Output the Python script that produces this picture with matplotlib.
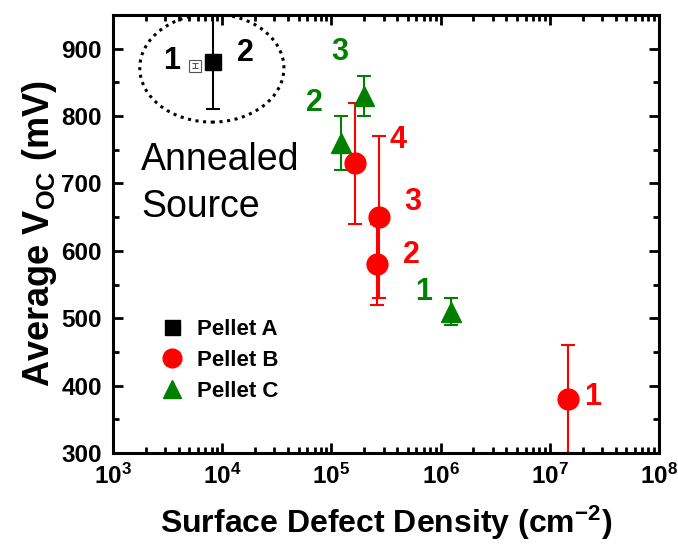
import numpy as np
import matplotlib.pyplot as plt
from matplotlib.patches import Ellipse
from matplotlib.ticker import FixedLocator, NullFormatter

plt.rcParams['font.family'] = ['Liberation Sans', 'DejaVu Sans']
plt.rcParams['font.weight'] = 'bold'
plt.rcParams['mathtext.fontset'] = 'custom'
plt.rcParams['mathtext.rm'] = 'Liberation Sans:bold'
plt.rcParams['mathtext.it'] = 'Liberation Sans:bold'
plt.rcParams['mathtext.bf'] = 'Liberation Sans:bold'

# Pellet A (annealed source), filled and open squares
a_x = [8.2e3]
a_v = [880]
a_err = [70]
a_open_x = [5.6e3]
a_open_v = [875]
a_open_err = [4]

# Pellet B
b_x = [1.47e7, 2.6e5, 2.73e5, 1.65e5]
b_v = [380, 580, 650, 730]
b_err = [80, 60, 120, 90]

# Pellet C
c_x = [1.25e6, 1.22e5, 2.0e5]
c_v = [510, 760, 830]
c_err = [20, 40, 30]

b_labels = ['1', '2', '3', '4']
c_labels = ['1', '2', '3']

fig = plt.figure(figsize=(6.78, 5.46), dpi=100)
ax = fig.add_axes([0.1667, 0.1703, 0.8053, 0.8022])

ax.set_xscale('log')
ax.set_xlim(1e3, 1e8)
ax.set_ylim(300, 950)

green = '#007f00'
red = '#ff0000'

# error bars
ax.errorbar(a_x, a_v, yerr=a_err, fmt='none', ecolor='black', elinewidth=1.5, capsize=5, capthick=1.5)
ax.errorbar(a_open_x, a_open_v, yerr=a_open_err, fmt='none', ecolor='#555555', elinewidth=0.8, capsize=2.5, capthick=0.8)
ax.errorbar(b_x, b_v, yerr=b_err, fmt='none', ecolor=red, elinewidth=1.5, capsize=5, capthick=1.5)
ax.errorbar(c_x, c_v, yerr=c_err, fmt='none', ecolor=green, elinewidth=1.5, capsize=5, capthick=1.5)

# markers
ax.plot(a_open_x, a_open_v, 's', ms=8, mfc='none', mec='#555555', mew=0.8)
ax.plot(a_x, a_v, 's', ms=12, color='black', label='Pellet A')
ax.plot(b_x, b_v, 'o', ms=15, color=red, label='Pellet B')
ax.plot(c_x, c_v, '^', ms=14, color=green, label='Pellet C')

# point numbers
lbl = dict(fontsize=22, fontweight='bold', ha='center', va='center')
ax.text(0.108, 0.895, '1', transform=ax.transAxes, color='black', **lbl)
ax.text(0.243, 0.913, '2', transform=ax.transAxes, color='black', **lbl)
b_pos = [(0.879, 0.128), (0.546, 0.452), (0.549, 0.573), (0.522, 0.715)]
for t, (px, py) in zip(b_labels, b_pos):
    ax.text(px, py, t, transform=ax.transAxes, color=red, **lbl)
c_pos = [(0.568, 0.367), (0.368, 0.799), (0.416, 0.915)]
for t, (px, py) in zip(c_labels, c_pos):
    ax.text(px, py, t, transform=ax.transAxes, color=green, **lbl)

ax.text(0.052, 0.615, 'Annealed\nSource', transform=ax.transAxes, fontsize=27,
        fontweight='normal', ha='left', va='center', linespacing=1.38)

ax.add_patch(Ellipse((0.181, 0.879), 0.264, 0.247, transform=ax.transAxes,
                     fill=False, ls=(0, (1, 1.5)), lw=2.2, color='black'))

ax.set_xlabel('Surface Defect Density (cm$^{-2}$)', fontsize=23, fontweight='bold', labelpad=10)
ax.set_ylabel('Average V$_{OC}$ (mV)', fontsize=26, fontweight='bold', labelpad=2)

ax.legend(loc='upper left', bbox_to_anchor=(0.068, 0.332), frameon=False,
          prop={'weight': 'bold', 'size': 16}, handlelength=1, handletextpad=0.6,
          borderpad=0, labelspacing=0.45, numpoints=1, markerscale=0.9)

# ticks on all four sides, pointing in
ax.set_xticks([1e3, 1e4, 1e5, 1e6, 1e7, 1e8])
minor_x = np.outer(10.0 ** np.arange(3, 8), np.arange(2, 10)).ravel()
ax.xaxis.set_minor_locator(FixedLocator(minor_x))
ax.xaxis.set_minor_formatter(NullFormatter())
ax.set_yticks([300, 400, 500, 600, 700, 800, 900])
ax.yaxis.set_minor_locator(FixedLocator(np.arange(350, 950, 100)))

for s in ax.spines.values():
    s.set_linewidth(2.2)
ax.tick_params(which='both', direction='in', top=True, right=True, width=2)
ax.tick_params(which='major', length=7, labelsize=17.5, pad=8)
ax.tick_params(which='minor', length=4)

fig.savefig('out.png', dpi=100)
